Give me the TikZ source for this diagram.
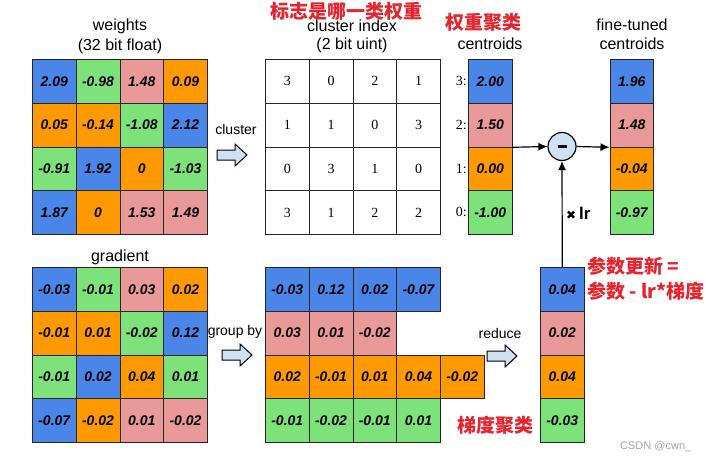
\documentclass[tikz,border=0pt]{standalone}
\usepackage{fontspec}
\setmainfont{Liberation Sans}
\newfontfamily\serifnum{Liberation Serif}
\newfontfamily\cjk{Noto Sans CJK SC}
\newfontfamily\sym{DejaVu Sans}
\usetikzlibrary{arrows.meta}
\definecolor{cb}{HTML}{4A86E8}
\definecolor{cp}{HTML}{EA9999}
\definecolor{co}{HTML}{FF9900}
\definecolor{cg}{HTML}{7EE27A}
\definecolor{cl}{HTML}{CFE2F3}
\definecolor{cred}{HTML}{E8232E}
\tikzset{
 cell/.style={draw=black!85, line width=0.8pt, minimum width=43.75pt, minimum height=43.75pt, inner sep=0pt, anchor=north west, font=\fontsize{14}{14}\selectfont\bfseries\itshape},
 idx/.style={cell, font=\fontsize{14}{14}\serifnum},
 lbl/.style={font=\fontsize{16}{16}\selectfont, anchor=base, inner sep=0pt},
 smalllbl/.style={font=\fontsize{14}{14}\selectfont, anchor=base, inner sep=0pt},
 redtxt/.style={text=cred, font=\fontsize{19}{19}\cjk\bfseries, inner sep=0pt},
 blockarrow/.style={draw=black, line width=1pt, fill=cl, line join=miter},
 conn/.style={line width=1.2pt, -{Latex[length=9pt,width=8pt]}},
}
\begin{document}
\begin{tikzpicture}[x=1pt,y=-1pt]
\useasboundingbox (0,0) rectangle (706,460);
\fill[white] (0,0) rectangle (706,460);

% ---------- weights ----------
\node[lbl] (wt1) at (120,31) {weights};
\node[lbl] (wt2) at (120,51) {(32 bit float)};
\foreach \r/\c/\col/\t in {
 0/0/cb/2.09, 0/1/cg/-0.98, 0/2/cp/1.48, 0/3/co/0.09,
 1/0/co/0.05, 1/1/co/-0.14, 1/2/cg/-1.08, 1/3/cb/2.12,
 2/0/cg/-0.91, 2/1/cb/1.92, 2/2/co/0, 2/3/cg/-1.03,
 3/0/cb/1.87, 3/1/co/0, 3/2/cp/1.53, 3/3/cp/1.49}
 \node[cell, fill=\col] (w\r\c) at ({32+43.75*\c},{59+43.75*\r}) {\t};

% ---------- cluster index ----------
\node[redtxt] (rt1) at (346,11) {标志是哪一类权重};
\node[lbl] (ci1) at (352,31.5) {cluster index};
\node[lbl] (ci2) at (352,50) {(2 bit uint)};
\foreach \r/\c/\t in {
 0/0/3, 0/1/0, 0/2/2, 0/3/1,
 1/0/1, 1/1/1, 1/2/0, 1/3/3,
 2/0/0, 2/1/3, 2/2/1, 2/3/0,
 3/0/3, 3/1/1, 3/2/2, 3/3/2}
 \node[idx, fill=white] (k\r\c) at ({265+43.75*\c},{59+43.75*\r}) {\t};
\node[smalllbl] (clab) at (236,134) {cluster};
\path[blockarrow] (217,150) -- (235,150) -- (235,144) -- (247,155) -- (235,166) -- (235,160) -- (217,160) -- cycle;

% ---------- centroids ----------
\node[redtxt] (rt2) at (483,22) {权重聚类};
\node[lbl] (cen) at (490,49) {centroids};
\foreach \r/\col/\t/\n in {0/cb/2.00/3, 1/cp/1.50/2, 2/co/0.00/1, 3/cg/-1.00/0}{
 \node[cell, fill=\col] (c\n) at (468,{59+43.75*\r}) {\t};
 \node[font=\fontsize{14}{14}\serifnum, anchor=east, inner sep=0pt] (i\n) at (467,{81+43.75*\r}) {\n:};
}

% ---------- fine-tuned centroids ----------
\node[lbl] (ft1) at (632,31) {fine-tuned};
\node[lbl] (ft2) at (632,49) {centroids};
\foreach \r/\col/\t/\n in {0/cb/1.96/3, 1/cp/1.48/2, 2/co/-0.04/1, 3/cg/-0.97/0}
 \node[cell, fill=\col] (f\n) at (609.5,{59+43.75*\r}) {\t};

% ---------- minus ----------
\node[circle, draw, line width=1.2pt, fill=cl, minimum size=28pt, inner sep=0pt] (minus) at (562,146.5) {\rule{9pt}{3.5pt}};
\draw[conn] (c2.south east) -- (minus.west);
\draw[conn] (minus.east) -- (f2.south west);

% ---------- gradient ----------
\node[lbl] (gt) at (120,261) {gradient};
\foreach \r/\c/\col/\t in {
 0/0/cb/-0.03, 0/1/cg/-0.01, 0/2/cp/0.03, 0/3/co/0.02,
 1/0/co/-0.01, 1/1/co/0.01, 1/2/cg/-0.02, 1/3/cb/0.12,
 2/0/cg/-0.01, 2/1/cb/0.02, 2/2/co/0.04, 2/3/cg/0.01,
 3/0/cb/-0.07, 3/1/co/-0.02, 3/2/cp/0.01, 3/3/cp/-0.02}
 \node[cell, fill=\col] (g\r\c) at ({32+43.75*\c},{267+43.75*\r}) {\t};
\node[smalllbl] (glab) at (235,335) {group by};
\path[blockarrow] (222,350) -- (240,350) -- (240,344) -- (252,355) -- (240,366) -- (240,360) -- (222,360) -- cycle;

% ---------- grouped ----------
\foreach \r/\c/\col/\t in {
 0/0/cb/-0.03, 0/1/cb/0.12, 0/2/cb/0.02, 0/3/cb/-0.07,
 1/0/cp/0.03, 1/1/cp/0.01, 1/2/cp/-0.02,
 2/0/co/0.02, 2/1/co/-0.01, 2/2/co/0.01, 2/3/co/0.04, 2/4/co/-0.02,
 3/0/cg/-0.01, 3/1/cg/-0.02, 3/2/cg/-0.01, 3/3/cg/0.01}
 \node[cell, fill=\col] (q\r\c) at ({265+43.75*\c},{267+43.75*\r}) {\t};
\node[smalllbl] (rlab) at (500,338) {reduce};
\path[blockarrow] (487,351) -- (505,351) -- (505,345) -- (517,356) -- (505,367) -- (505,361) -- (487,361) -- cycle;
\node[redtxt, anchor=west] (rt3) at (457,425) {梯度聚类};

% ---------- reduced ----------
\foreach \r/\col/\t/\n in {0/cb/0.04/3, 1/cp/0.02/2, 2/co/0.04/1, 3/cg/-0.03/0}
 \node[cell, fill=\col] (r\n) at (540,{267+43.75*\r}) {\t};
\draw[conn] (r3.north) -- (minus.south);
\node[anchor=base west, inner sep=0pt, font=\fontsize{17}{17}\selectfont\bfseries] (lr) at (566,219) {{\fontsize{12}{12}\sym ✖}\,lr};
\node[redtxt, anchor=west] (rt4) at (587,266) {参数更新 =};
\node[redtxt, anchor=west] (rt5) at (587,291) {参数 - lr*梯度};

\node[text=black!35, font=\fontsize{11}{11}\selectfont, anchor=west, inner sep=0pt] (wm) at (620,447) {CSDN @cwn\_};
\end{tikzpicture}
\end{document}
